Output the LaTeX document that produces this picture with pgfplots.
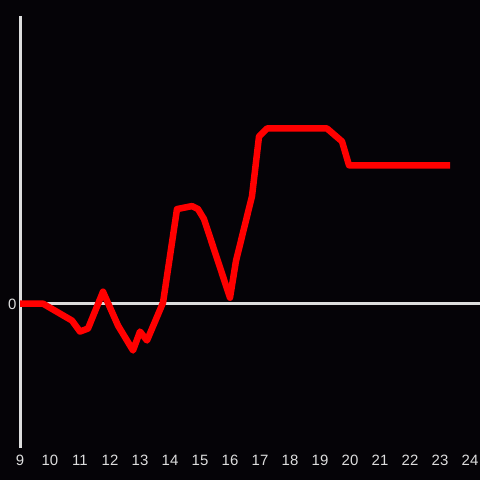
\documentclass[border=0pt]{standalone}
\usepackage{pgfplots}
\pgfplotsset{compat=1.18}
\usepackage{fontspec}
\setmainfont{Liberation Sans}
\definecolor{bg}{HTML}{050307}
\definecolor{axc}{HTML}{DDDDDD}
\begin{document}
\begin{tikzpicture}[x=1bp,y=1bp]
\fill[bg] (0,0) rectangle (480,480);
\begin{axis}[
  at={(20bp,32bp)}, anchor=south west,
  scale only axis, width=460bp, height=432bp,
  xmin=9, xmax=24.3333, ymin=-14.5, ymax=28.9,
  clip=false,
  axis line style={draw=none},
  major tick length=0pt,
  xtick={9,...,24}, ytick={0},
  /pgf/number format/assume math mode=true,
  tick label style={text=axc, font=\fontsize{15}{17}\selectfont},
  xticklabel style={yshift=-4bp},
  yticklabel style={xshift=0bp, yshift=-1bp},
]
\addplot[axc, line width=3bp, forget plot] coordinates {(9,-14.5) (9,28.9)};
\addplot[axc, line width=3bp, forget plot] coordinates {(9,0) (24.3333,0)};
\addplot[red, line width=6.5bp, line join=round] coordinates {
(9,0) (9.767,0) (10.733,-1.7) (11.0,-2.8) (11.267,-2.5) (11.767,1.2)
(12.267,-2.2) (12.767,-4.7) (13.0,-2.8) (13.233,-3.7) (13.767,0.1)
(14.233,9.5) (14.733,9.8) (14.933,9.5) (15.133,8.5) (16.0,0.6)
(16.2,4.3) (16.733,10.8) (16.967,16.8) (17.233,17.6) (19.233,17.6)
(19.733,16.3) (19.967,13.9) (23.333,13.9)
};
\end{axis}
\pgfresetboundingbox
\path (0,0) rectangle (480,480);
\end{tikzpicture}
\end{document}
